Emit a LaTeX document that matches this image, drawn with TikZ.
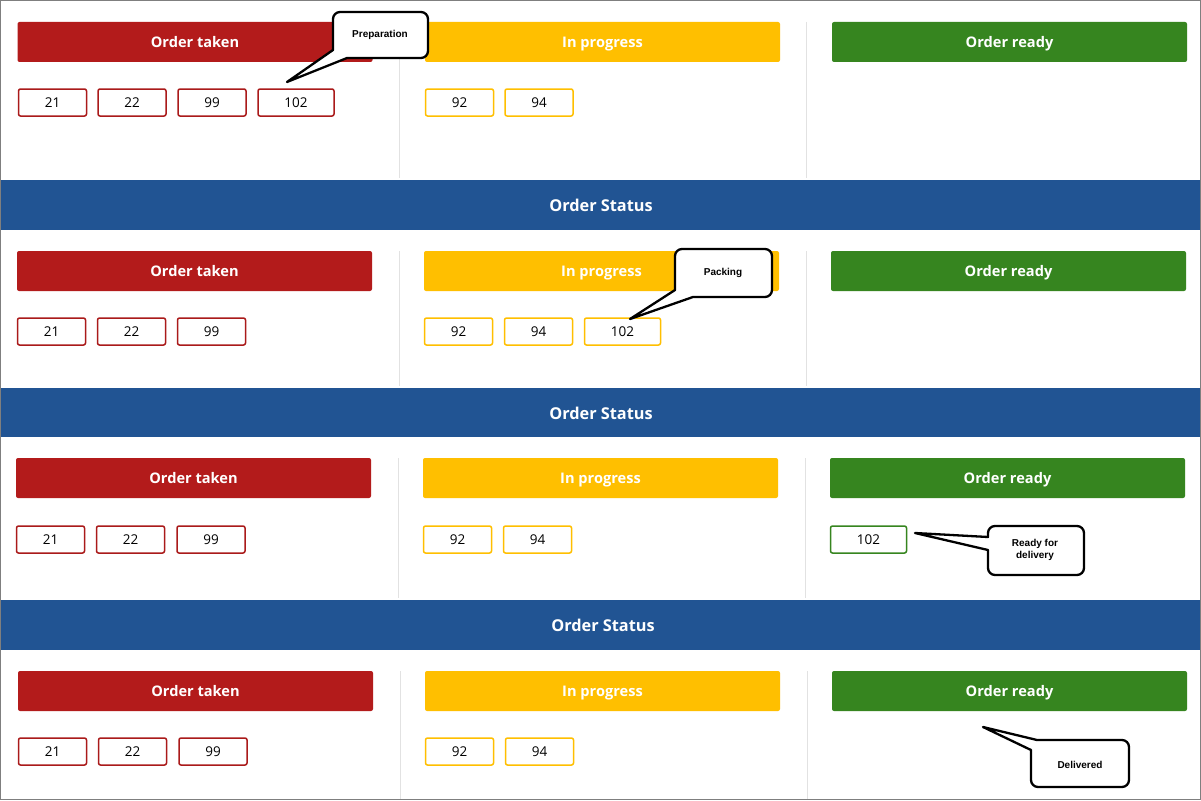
\documentclass[tikz,border=0pt]{standalone}
\usepackage{fontspec}
\setmainfont{Open Sans}
\newfontfamily\callfont{Liberation Sans}
\definecolor{cred}{HTML}{B31B1B}
\definecolor{cyel}{HTML}{FFBF00}
\definecolor{cgrn}{HTML}{36851F}
\definecolor{cblue}{HTML}{215493}
\definecolor{cdiv}{HTML}{E2E2E2}
\definecolor{cbord}{HTML}{7F7F7F}
\tikzset{
  hdr/.style={rounded corners=2pt, minimum width=355pt, minimum height=40pt, inner sep=0pt, text height=11pt, text depth=0pt, text=white, font=\fontsize{14.6}{18}\selectfont\bfseries},
  redhdr/.style={hdr, fill=cred},
  yelhdr/.style={hdr, fill=cyel},
  grnhdr/.style={hdr, fill=cgrn},
  numbox/.style={draw, line width=1.5pt, rounded corners=2pt, minimum width=68pt, minimum height=27pt, inner sep=0pt, text height=9.5pt, text depth=0pt, fill=white, font=\fontsize{13.5}{15}\selectfont},
  wide/.style={minimum width=76pt},
  rednum/.style={numbox, draw=cred!95!black},
  yelnum/.style={numbox, draw=cyel},
  grnnum/.style={numbox, draw=cgrn},
  band/.style={fill=cblue, draw=none},
  bandtext/.style={text=white, text height=12pt, text depth=0pt, inner sep=0pt, font=\fontsize{16.3}{20}\selectfont\bfseries},
  divline/.style={draw=cdiv, line width=1pt},
  callout/.style={draw=black, fill=white, line width=2.3pt, line join=round},
  calltext/.style={font=\callfont\fontsize{10}{11.5}\selectfont\bfseries, align=center, inner sep=0pt}
}
\begin{document}
\begin{tikzpicture}[x=1pt,y=-1pt]
\useasboundingbox (0,0) rectangle (1201,800);
\fill[white] (0,0) rectangle (1201,800);

% blue bands
\fill[band] (1,180) rectangle (1200,230);
\fill[band] (1,388) rectangle (1200,437);
\fill[band] (1,600) rectangle (1200,650);
\node[bandtext] (b1) at (601,205) {Order Status};
\node[bandtext] (b2) at (601,413) {Order Status};
\node[bandtext] (b3) at (603,625) {Order Status};

% dividers
\draw[divline] (399,22) -- (399,178);
\draw[divline] (806,22) -- (806,178);
\draw[divline] (399,251) -- (399,386);
\draw[divline] (806,251) -- (806,386);
\draw[divline] (398,458) -- (398,598);
\draw[divline] (805,458) -- (805,598);
\draw[divline] (400,671) -- (400,800);
\draw[divline] (807,671) -- (807,800);

% Panel 1
\node[redhdr] (h1r) at (195,42) {Order taken};
\node[yelhdr] (h1y) at (602.5,42) {In progress};
\node[grnhdr] (h1g) at (1009.5,42) {Order ready};
\node[rednum] (p1a) at (52.5,102.5) {21};
\node[rednum] (p1b) at (132,102.5) {22};
\node[rednum] (p1c) at (212,102.5) {99};
\node[rednum,wide] (p1d) at (296,102.5) {102};
\node[yelnum] (p1e) at (459.5,102.5) {92};
\node[yelnum] (p1f) at (539,102.5) {94};

% Panel 2
\node[redhdr] (h2r) at (194.5,271) {Order taken};
\node[yelhdr] (h2y) at (601.5,271) {In progress};
\node[grnhdr] (h2g) at (1008.5,271) {Order ready};
\node[rednum] (p2a) at (51.5,331.5) {21};
\node[rednum] (p2b) at (131.5,331.5) {22};
\node[rednum] (p2c) at (211.5,331.5) {99};
\node[yelnum] (p2d) at (458.5,331.5) {92};
\node[yelnum] (p2e) at (538.5,331.5) {94};
\node[yelnum,wide] (p2f) at (622.5,331.5) {102};

% Panel 3
\node[redhdr] (h3r) at (193.5,478) {Order taken};
\node[yelhdr] (h3y) at (600.5,478) {In progress};
\node[grnhdr] (h3g) at (1007.5,478) {Order ready};
\node[rednum] (p3a) at (50.5,539.5) {21};
\node[rednum] (p3b) at (130.5,539.5) {22};
\node[rednum] (p3c) at (211,539.5) {99};
\node[yelnum] (p3d) at (457.5,539.5) {92};
\node[yelnum] (p3e) at (537.5,539.5) {94};
\node[grnnum,wide] (p3f) at (868.5,539.5) {102};

% Panel 4
\node[redhdr] (h4r) at (195.5,691) {Order taken};
\node[yelhdr] (h4y) at (602.5,691) {In progress};
\node[grnhdr] (h4g) at (1009.5,691) {Order ready};
\node[rednum] (p4a) at (52.5,751.5) {21};
\node[rednum] (p4b) at (132.5,751.5) {22};
\node[rednum] (p4c) at (213,751.5) {99};
\node[yelnum] (p4d) at (459.5,751.5) {92};
\node[yelnum] (p4e) at (539.5,751.5) {94};

% callouts
\coordinate (t1) at (287,82);
\draw[callout] (t1) -- (333,50) [rounded corners=7pt] -- (333,12) -- (428,12) -- (428,58) [sharp corners] -- (347,58) -- cycle;
\node[calltext] (c1) at (380,35) {Preparation};

\coordinate (t2) at (630,319);
\draw[callout] (t2) -- (675,290) [rounded corners=7pt] -- (675,249) -- (772,249) -- (772,297) [sharp corners] -- (693,297) -- cycle;
\node[calltext] (c2) at (723,273) {Packing};

\coordinate (t3) at (915,533);
\draw[callout] (t3) -- (988,537) [rounded corners=7pt] -- (988,526) -- (1084,526) -- (1084,575) -- (988,575) [sharp corners] -- (988,550) -- cycle;
\node[calltext] (c3) at (1035,550) {Ready for\\delivery};

\coordinate (t4) at (983,727);
\draw[callout] (t4) -- (1037,740) [rounded corners=7pt] -- (1129,740) -- (1129,787) -- (1031,787) [sharp corners] -- (1031,750) -- cycle;
\node[calltext] (c4) at (1080,765) {Delivered};

% outer border
\draw[cbord, line width=1pt] (0.5,0.5) rectangle (1200.5,799.5);
\end{tikzpicture}
\end{document}
